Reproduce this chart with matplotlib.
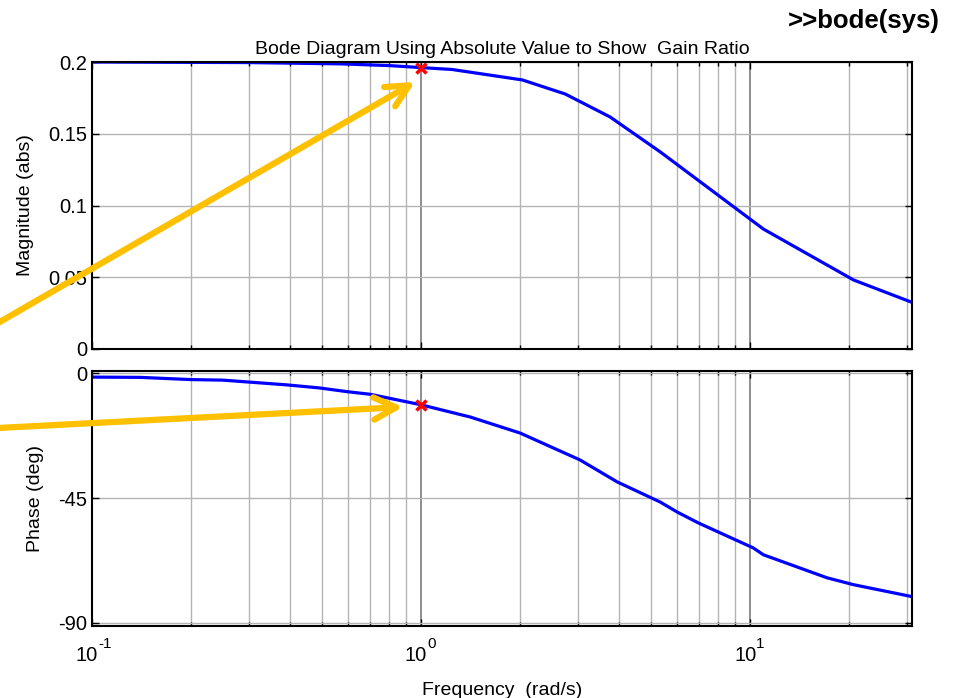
import numpy as np
import matplotlib
matplotlib.use('Agg')
import matplotlib.pyplot as plt
from matplotlib.patches import FancyArrowPatch

plt.rcParams['font.family'] = ['Liberation Sans', 'DejaVu Sans']

# magnitude (abs)
mag_w = [0.1, 0.3, 0.57, 0.8, 1.0, 1.24, 2.03, 2.74, 3.75, 5.33, 10.96, 20.6, 31.0]
mag_v = [0.2, 0.1996, 0.1987, 0.1975, 0.1961, 0.1948, 0.1875, 0.1777, 0.1617, 0.1373, 0.0836, 0.0481, 0.0325]

# phase (deg)
ph_w = [0.1, 0.14, 0.2, 0.25, 0.39, 0.49, 0.6, 0.7, 1.0, 1.41, 2.0, 3.04, 3.94,
        5.33, 6.0, 6.95, 8.1, 10.2, 10.96, 17.1, 20.6, 31.0]
ph_v = [-1.3, -1.4, -2.2, -2.4, -4.1, -5.2, -6.6, -7.5, -11.3, -15.7, -21.5, -31.2, -39.1,
        -46.4, -50.0, -53.9, -57.5, -62.9, -65.4, -73.7, -76.2, -80.5]

mark_w = 1.0
mark_mag = 0.1961
mark_ph = -11.3

mag_ticks = [0, 0.05, 0.1, 0.15, 0.2]
mag_ticklabels = ['0', '0.05', '0.1', '0.15', '0.2']
ph_ticks = [-90, -45, 0]
ph_ticklabels = ['-90', '-45', '0']
x_ticks = [0.1, 1, 10]
x_exps = ['-1', '0', '1']

W, H = 957, 698
fig = plt.figure(figsize=(W / 100, H / 100), dpi=100)

ax1 = fig.add_axes([92 / W, 1 - 349 / H, 820 / W, 287 / H])
ax2 = fig.add_axes([92 / W, 1 - 626 / H, 820 / W, 255 / H])

fs = 14.5
lfs = 14
for ax in (ax1, ax2):
    ax.set_xscale('log')
    ax.set_xlim(0.1, 31)
    ax.set_xticks(x_ticks)
    minors = [m * d for d in (0.1, 1, 10) for m in range(2, 10) if m * d < 31]
    ax.set_xticks(minors, minor=True)
    ax.grid(True, which='minor', axis='x', color='#b4b4b4', lw=1)
    ax.grid(True, which='major', axis='x', color='#7a7a7a', lw=1.2)
    ax.grid(True, which='major', axis='y', color='#b4b4b4', lw=1)
    ax.set_axisbelow(True)
    ax.tick_params(which='both', direction='in', top=True, right=True, labelsize=fs,
                   width=1, color='black', labelbottom=False)
    ax.tick_params(which='major', length=5)
    ax.tick_params(which='minor', length=3)
    for s in ax.spines.values():
        s.set_linewidth(1.5)

ax1.plot(mag_w, mag_v, color='#0000ff', lw=2.3)
ax1.plot([mark_w], [mark_mag], 'x', color='red', ms=7, mew=2.5)
ax1.set_ylim(0, 0.2)
ax1.set_yticks(mag_ticks)
ax1.set_yticklabels(mag_ticklabels)
ax1.set_ylabel('Magnitude (abs)', fontsize=lfs, labelpad=10)
ax1.set_title('Bode Diagram Using Absolute Value to Show  Gain Ratio', fontsize=lfs, pad=6)

ax2.plot(ph_w, ph_v, color='#0000ff', lw=2.3)
ax2.plot([mark_w], [mark_ph], 'x', color='red', ms=7, mew=2.5)
ax2.set_ylim(-91.1, 0.9)
ax2.set_yticks(ph_ticks)
ax2.set_yticklabels(ph_ticklabels)
ax2.set_ylabel('Phase (deg)', fontsize=lfs, labelpad=10)
ax2.set_xlabel('Frequency  (rad/s)', fontsize=lfs, labelpad=40)

# x tick labels drawn as base + raised exponent
for xv, ex in zip(x_ticks, x_exps):
    ax2.annotate('10', xy=(xv, 0), xycoords=('data', 'axes fraction'),
                 xytext=(6, -35), textcoords='offset pixels',
                 ha='right', va='baseline', fontsize=fs)
    ax2.annotate(ex, xy=(xv, 0), xycoords=('data', 'axes fraction'),
                 xytext=(6, -22), textcoords='offset pixels',
                 ha='left', va='baseline', fontsize=11)

fig.text(940 / W, 1 - 21 / H, '>>bode(sys)', fontsize=18.5, fontweight='bold',
         ha='right', va='center')

# orange pointer arrows (figure pixel positions)
orange = '#ffc000'
for tail, tip in [((-2, 323), (415, 82)), ((-2, 428), (403, 407))]:
    arr = FancyArrowPatch((tail[0] / W, 1 - tail[1] / H), (tip[0] / W, 1 - tip[1] / H),
                          transform=fig.transFigure, arrowstyle='->,head_length=0.8,head_width=0.4',
                          mutation_scale=20, color=orange, lw=4.5, capstyle='round',
                          joinstyle='round', shrinkA=0, shrinkB=0, zorder=10)
    fig.add_artist(arr)

fig.savefig('out.png', dpi=100)
